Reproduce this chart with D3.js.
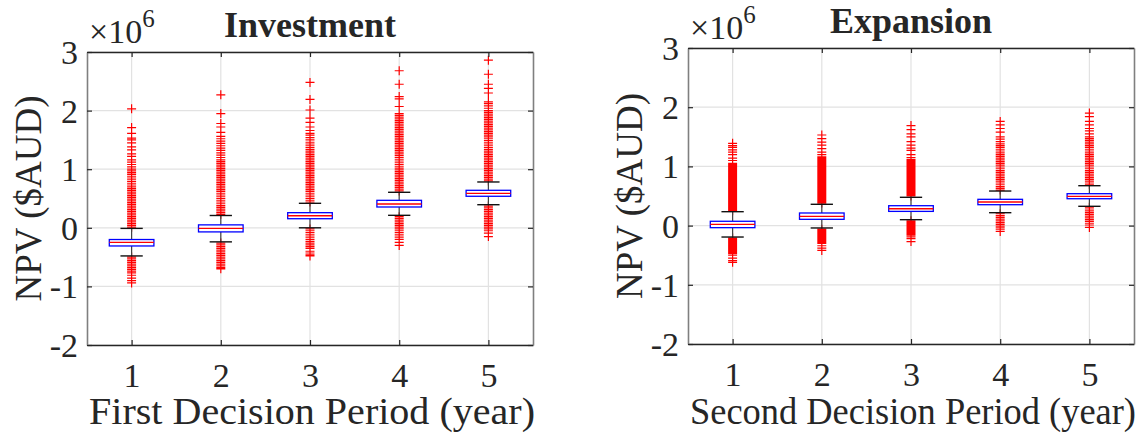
<!DOCTYPE html>
<html><head><meta charset="utf-8">
<script src="https://cdn.jsdelivr.net/npm/d3@7"></script>
<style>
body{margin:0;background:#fff}
svg{display:block}
text{font-family:"Liberation Serif","Times New Roman",serif;fill:#262626}
</style>
</head><body><svg id="c" width="1142" height="436"></svg>
<script>
// ---------- data (values in millions of AUD) ----------
const categories = [1, 2, 3, 4, 5];
const xTickLabels = ["1", "2", "3", "4", "5"];
const yTicks = [-2, -1, 0, 1, 2, 3];
const yTickLabels = ["-2", "-1", "0", "1", "2", "3"];
const titles = ["Investment", "Expansion"];
const xLabels = ["First Decision Period (year)", "Second Decision Period (year)"];
const yLabel = "NPV ($AUD)";

// Investment panel
const invQ1 = [-0.31, -0.07, 0.155, 0.355, 0.538];
const invMedian = [-0.25, -0.01, 0.206, 0.406, 0.589];
const invQ3 = [-0.20, 0.05, 0.258, 0.469, 0.64];
const invWhiskerLo = [-0.48, -0.24, 0.0, 0.213, 0.394];
const invWhiskerHi = [-0.01, 0.21, 0.418, 0.606, 0.782];
const invOutliers1 = [0.01,0.04,0.07,0.10,0.13,0.16,0.19,0.22,0.25,0.28,0.31,0.34,0.37,0.40,0.43,0.46,0.49,0.52,0.55,0.58,0.61,0.64,0.67,0.70,0.73,0.76,0.79,0.82,0.85,0.88,0.91,0.94,0.97,1.00,1.04,1.08,1.12,1.16,1.22,1.26,1.33,1.38,1.45,1.50,1.53,1.61,1.71,2.03,
  -0.50,-0.53,-0.56,-0.59,-0.62,-0.65,-0.68,-0.71,-0.74,-0.77,-0.81,-0.86,-0.90,-0.94];
const invOutliers2 = [0.23,0.26,0.29,0.32,0.35,0.38,0.41,0.44,0.47,0.50,0.53,0.56,0.59,0.62,0.65,0.68,0.71,0.74,0.77,0.80,0.83,0.86,0.89,0.92,0.95,0.98,1.01,1.04,1.07,1.10,1.13,1.16,1.20,1.24,1.28,1.32,1.36,1.40,1.44,1.48,1.52,1.56,1.63,1.72,1.78,1.95,2.27,
  -0.26,-0.29,-0.32,-0.35,-0.38,-0.41,-0.44,-0.47,-0.50,-0.53,-0.56,-0.59,-0.62,-0.65,-0.68,-0.70];
const invOutliers3 = [0.44,0.47,0.50,0.53,0.56,0.59,0.62,0.65,0.68,0.71,0.74,0.77,0.80,0.83,0.86,0.89,0.92,0.95,0.98,1.01,1.04,1.07,1.10,1.13,1.16,1.19,1.22,1.25,1.28,1.31,1.34,1.37,1.40,1.43,1.46,1.50,1.54,1.58,1.61,1.66,1.72,1.80,1.87,2.01,2.19,2.48,
  -0.02,-0.05,-0.08,-0.11,-0.14,-0.17,-0.20,-0.23,-0.26,-0.29,-0.32,-0.35,-0.40,-0.43,-0.46,-0.48];
const invOutliers4 = [0.63,0.66,0.69,0.72,0.75,0.78,0.81,0.84,0.87,0.90,0.93,0.96,0.99,1.02,1.05,1.08,1.11,1.14,1.17,1.20,1.23,1.26,1.29,1.32,1.35,1.38,1.41,1.44,1.47,1.50,1.53,1.56,1.59,1.62,1.65,1.68,1.71,1.74,1.77,1.80,1.83,1.86,1.89,1.92,1.95,2.07,2.20,2.24,2.45,2.68,
  0.19,0.16,0.13,0.10,0.07,0.04,0.01,-0.02,-0.05,-0.08,-0.11,-0.14,-0.17,-0.20,-0.25,-0.30];
const invOutliers5 = [0.80,0.83,0.86,0.89,0.92,0.95,0.98,1.01,1.04,1.07,1.10,1.13,1.16,1.19,1.22,1.25,1.28,1.31,1.34,1.37,1.40,1.43,1.46,1.49,1.52,1.55,1.58,1.61,1.64,1.67,1.70,1.73,1.76,1.79,1.82,1.85,1.88,1.91,1.94,1.97,2.00,2.04,2.08,2.12,2.15,2.30,2.38,2.45,2.62,2.86,
  0.37,0.34,0.31,0.28,0.25,0.22,0.19,0.16,0.13,0.10,0.07,0.04,0.01,-0.02,-0.05,-0.09,-0.15];

// Expansion panel
const expQ1 = [-0.035, 0.106, 0.24, 0.353, 0.454];
const expMedian = [0.022, 0.157, 0.285, 0.399, 0.495];
const expQ3 = [0.073, 0.213, 0.336, 0.444, 0.539];
const expWhiskerLo = [-0.193, -0.04, 0.1, 0.218, 0.326];
const expWhiskerHi = [0.235, 0.36, 0.478, 0.584, 0.674];
const expOutliers1 = [0.25,0.27,0.29,0.31,0.33,0.35,0.37,0.39,0.41,0.43,0.45,0.47,0.49,0.51,0.53,0.55,0.57,0.59,0.61,0.63,0.65,0.67,0.69,0.71,0.73,0.75,0.77,0.79,0.81,0.83,0.85,0.87,0.89,0.91,0.93,0.95,0.97,0.99,1.01,1.03,1.05,1.10,1.14,1.20,1.24,1.28,1.32,1.35,1.39,
  -0.21,-0.23,-0.25,-0.27,-0.29,-0.31,-0.33,-0.35,-0.37,-0.39,-0.41,-0.43,-0.45,-0.47,-0.50,-0.55,-0.59,-0.62];
const expOutliers2 = [0.38,0.40,0.42,0.44,0.46,0.48,0.50,0.52,0.54,0.56,0.58,0.60,0.62,0.64,0.66,0.68,0.70,0.72,0.74,0.76,0.78,0.80,0.82,0.84,0.86,0.88,0.90,0.92,0.94,0.96,0.98,1.00,1.02,1.04,1.06,1.08,1.10,1.12,1.14,1.16,1.20,1.24,1.30,1.36,1.41,1.47,1.53,
  -0.06,-0.08,-0.10,-0.12,-0.14,-0.16,-0.18,-0.20,-0.22,-0.24,-0.26,-0.28,-0.30,-0.34,-0.38,-0.42];
const expOutliers3 = [0.50,0.52,0.54,0.56,0.58,0.60,0.62,0.64,0.66,0.68,0.70,0.72,0.74,0.76,0.78,0.80,0.82,0.84,0.86,0.88,0.90,0.92,0.94,0.96,0.98,1.00,1.02,1.04,1.06,1.08,1.10,1.12,1.15,1.20,1.27,1.31,1.36,1.42,1.50,1.55,1.62,1.69,
  0.08,0.06,0.04,0.02,0.00,-0.02,-0.04,-0.06,-0.08,-0.10,-0.12,-0.14,-0.16,-0.19,-0.22,-0.27];
const expOutliers4 = [0.60,0.63,0.66,0.69,0.72,0.75,0.78,0.81,0.84,0.87,0.90,0.93,0.96,0.99,1.02,1.05,1.08,1.11,1.14,1.17,1.20,1.23,1.26,1.29,1.32,1.35,1.38,1.42,1.46,1.50,1.58,1.64,1.70,1.76,
  0.20,0.17,0.14,0.11,0.08,0.05,0.02,-0.01,-0.04,-0.07,-0.10];
const expOutliers5 = [0.69,0.72,0.75,0.78,0.81,0.84,0.87,0.90,0.93,0.96,0.99,1.02,1.05,1.08,1.11,1.14,1.17,1.20,1.23,1.26,1.29,1.32,1.35,1.38,1.41,1.44,1.47,1.50,1.55,1.60,1.64,1.70,1.76,1.84,1.90,
  0.31,0.28,0.25,0.22,0.19,0.16,0.13,0.10,0.07,0.04,0.01,-0.03];

// ---------- drawing ----------
const svg = d3.select("#c");
svg.append("rect").attr("width", 1142).attr("height", 436).attr("fill", "#fff");

const panels = [
  { title: titles[0], xlabel: xLabels[0], q1: invQ1, med: invMedian, q3: invQ3, lo: invWhiskerLo, hi: invWhiskerHi,
    out: [invOutliers1, invOutliers2, invOutliers3, invOutliers4, invOutliers5],
    x0: 87, x1: 533, y0: 345, y1: 52, titleY: 37, expY: 43, ylabX: 41 },
  { title: titles[1], xlabel: xLabels[1], q1: expQ1, med: expMedian, q3: expQ3, lo: expWhiskerLo, hi: expWhiskerHi,
    out: [expOutliers1, expOutliers2, expOutliers3, expOutliers4, expOutliers5],
    x0: 688, x1: 1134, y0: 344, y1: 48, titleY: 33, expY: 39, ylabX: 642 }
];

const TICK_FS = 34;

panels.forEach(p => {
  const x = d3.scaleLinear().domain([0.5, 5.5]).range([p.x0, p.x1]);
  const y = d3.scaleLinear().domain([-2, 3]).range([p.y0, p.y1]);
  const g = svg.append("g");

  // grid
  g.append("g").selectAll("line").data(categories).join("line")
    .attr("x1", d => x(d)).attr("x2", d => x(d)).attr("y1", p.y0).attr("y2", p.y1)
    .attr("stroke", "#e2e2e2").attr("stroke-width", 1.2);
  g.append("g").selectAll("line").data(yTicks).join("line")
    .attr("x1", p.x0).attr("x2", p.x1).attr("y1", d => y(d)).attr("y2", d => y(d))
    .attr("stroke", "#e2e2e2").attr("stroke-width", 1.2);

  // outliers
  const pts = [];
  p.out.forEach((arr, i) => arr.forEach(v => pts.push({ c: categories[i], v })));
  const hs = 4.5;
  g.append("path")
    .attr("d", pts.map(d => {
      const cx = x(d.c), cy = y(d.v);
      return `M${cx - hs},${cy}H${cx + hs}M${cx},${cy - hs}V${cy + hs}`;
    }).join(""))
    .attr("fill", "none").attr("stroke", "#ff0000").attr("stroke-width", 1.2);

  // boxes
  const bw = 0.25, cw = 0.125;
  categories.forEach((c, i) => {
    const bg = g.append("g");
    bg.append("line").attr("x1", x(c)).attr("x2", x(c)).attr("y1", y(p.hi[i])).attr("y2", y(p.q3[i]))
      .attr("stroke", "#444").attr("stroke-width", 1.2);
    bg.append("line").attr("x1", x(c)).attr("x2", x(c)).attr("y1", y(p.q1[i])).attr("y2", y(p.lo[i]))
      .attr("stroke", "#444").attr("stroke-width", 1.2);
    [p.hi[i], p.lo[i]].forEach(v => {
      bg.append("line").attr("x1", x(c - cw)).attr("x2", x(c + cw)).attr("y1", y(v)).attr("y2", y(v))
        .attr("stroke", "#111").attr("stroke-width", 1.4);
    });
    bg.append("rect").attr("x", x(c - bw)).attr("width", x(c + bw) - x(c - bw))
      .attr("y", y(p.q3[i])).attr("height", y(p.q1[i]) - y(p.q3[i]))
      .attr("fill", "#fff").attr("stroke", "#0000ff").attr("stroke-width", 1.3);
    bg.append("line").attr("x1", x(c - bw)).attr("x2", x(c + bw)).attr("y1", y(p.med[i])).attr("y2", y(p.med[i]))
      .attr("stroke", "#ff0000").attr("stroke-width", 1.3);
  });

  // axes
  const axB = d3.axisBottom(x).tickValues(categories).tickSizeInner(-5).tickSizeOuter(0).tickPadding(18)
    .tickFormat((d, i) => xTickLabels[i]);
  const axT = d3.axisTop(x).tickValues(categories).tickSizeInner(-5).tickSizeOuter(0).tickFormat("");
  const axL = d3.axisLeft(y).tickValues(yTicks).tickSizeInner(-5).tickSizeOuter(0).tickPadding(9)
    .tickFormat((d, i) => yTickLabels[i]);
  const axR = d3.axisRight(y).tickValues(yTicks).tickSizeInner(-5).tickSizeOuter(0).tickFormat("");

  const gB = g.append("g").attr("transform", `translate(0,${p.y0})`).call(axB);
  const gT = g.append("g").attr("transform", `translate(0,${p.y1})`).call(axT);
  const gL = g.append("g").attr("transform", `translate(${p.x0},0)`).call(axL);
  const gR = g.append("g").attr("transform", `translate(${p.x1},0)`).call(axR);
  [gB, gT].forEach(a => { a.select(".domain").attr("stroke", "#262626").attr("stroke-width", 1.4);
    a.selectAll(".tick line").attr("stroke", "#262626").attr("stroke-width", 1.2); });
  [gL, gR].forEach(a => { a.select(".domain").attr("stroke", "#7f7f7f").attr("stroke-width", 1.6);
    a.selectAll(".tick line").attr("stroke", "#262626").attr("stroke-width", 1.2); });
  [gB, gL].forEach(a => a.selectAll("text")
    .attr("font-family", "'Liberation Serif','Times New Roman',serif")
    .attr("font-size", TICK_FS).attr("fill", "#262626"));
  gL.selectAll("text").attr("dy", "0.34em");

  // title
  g.append("text").attr("x", (p.x0 + p.x1) / 2).attr("y", p.titleY).attr("text-anchor", "middle")
    .attr("font-size", 36).attr("font-weight", "bold").attr("fill", "#000").text(p.title);

  // exponent
  const ex = g.append("text").attr("x", p.x0 + 2).attr("y", p.expY).attr("font-size", 34);
  ex.append("tspan").text("\u00d710");
  ex.append("tspan").attr("font-size", 25).attr("dy", -16).text("6");

  // y label
  g.append("text").attr("transform", `translate(${p.ylabX},${(p.y0 + p.y1) / 2}) rotate(-90)`)
    .attr("text-anchor", "middle").attr("font-size", 37).text(yLabel);

  // x label
  g.append("text").attr("x", (p.x0 + p.x1) / 2 + 2).attr("y", 424).attr("text-anchor", "middle")
    .attr("font-size", 37).attr("textLength", 446).attr("lengthAdjust", "spacingAndGlyphs").text(p.xlabel);
});
</script></body></html>
